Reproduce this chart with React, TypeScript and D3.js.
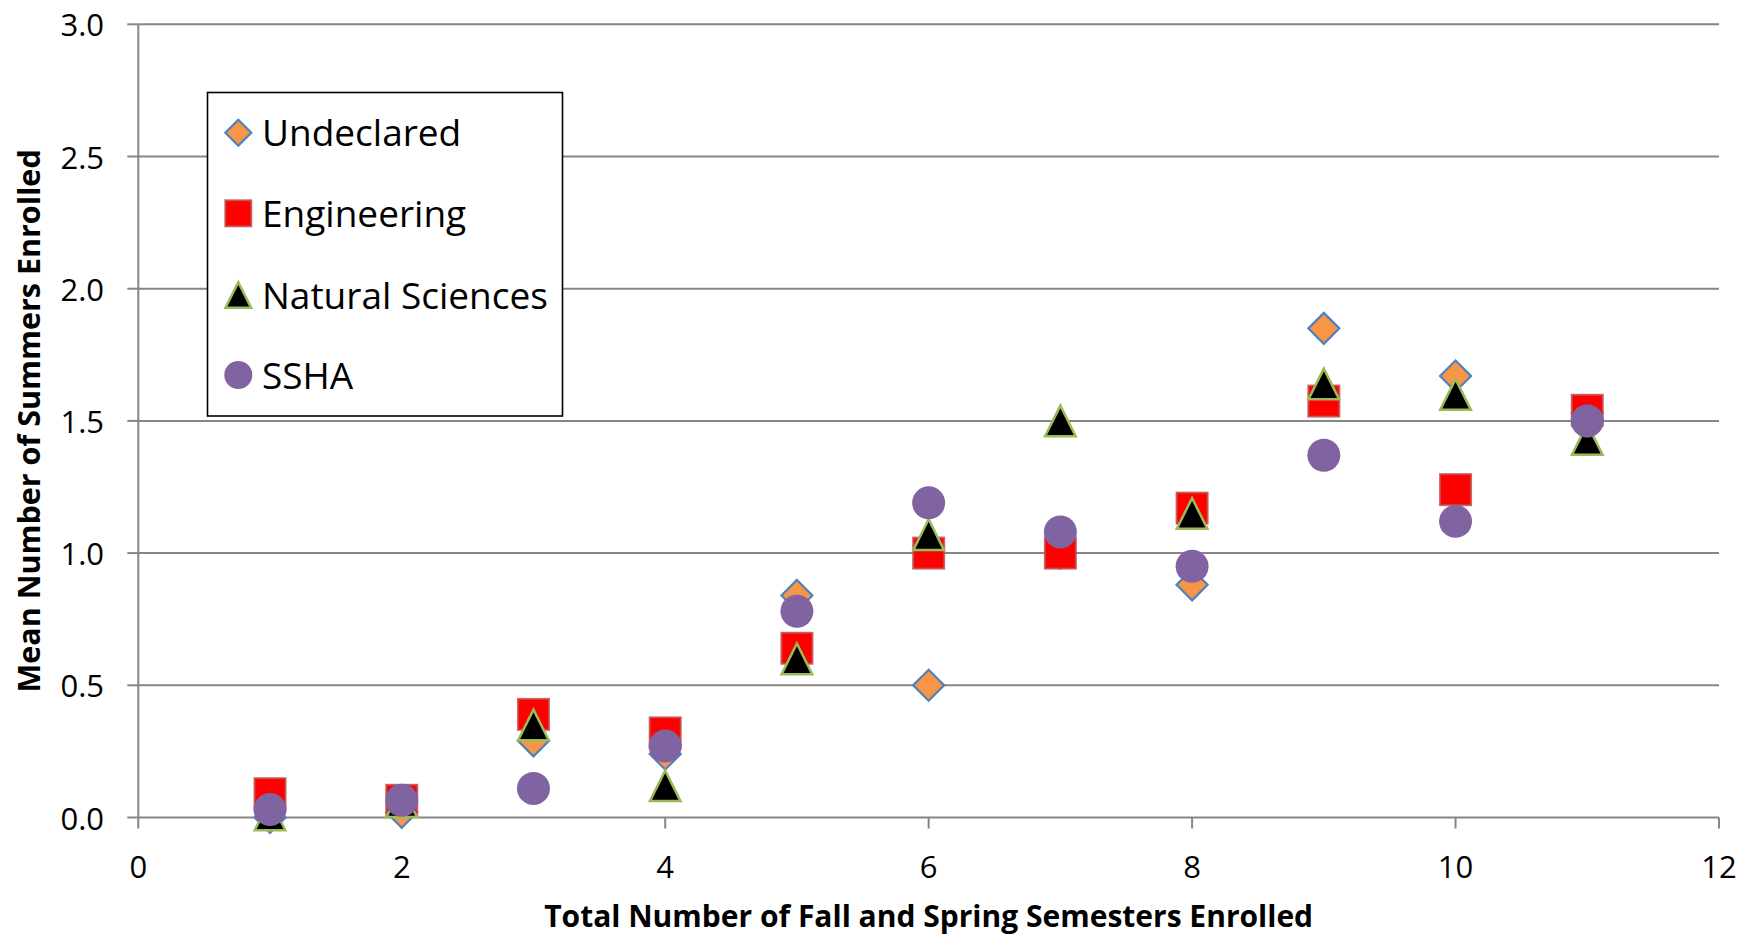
import React from "react";
import * as d3 from "d3";

const semesters = [1, 2, 3, 4, 5, 6, 7, 8, 9, 10, 11];
const undeclared = [0.0, 0.02, 0.29, 0.24, 0.84, 0.5, 1.0, 0.88, 1.85, 1.67, 1.53];
const engineering = [0.09, 0.065, 0.39, 0.32, 0.64, 1.0, 1.0, 1.17, 1.575, 1.24, 1.54];
const naturalSciences = [0.01, 0.06, 0.35, 0.12, 0.6, 1.07, 1.5, 1.15, 1.64, 1.6, 1.43];
const ssha = [0.03, 0.065, 0.11, 0.27, 0.78, 1.19, 1.08, 0.95, 1.37, 1.12, 1.5];
const seriesNames = ["Undeclared", "Engineering", "Natural Sciences", "SSHA"];
const yTicks = [0, 0.5, 1.0, 1.5, 2.0, 2.5, 3.0];
const xTicks = [0, 2, 4, 6, 8, 10, 12];

const W = 1744;
const H = 937;
const left = 138.3;
const right = 1719;
const top = 24.3;
const bottom = 817.5;
const gridColor = "#868686";
const FONT = "'Open Sans', 'Noto Sans', sans-serif";

type Kind = "diamond" | "square" | "triangle" | "circle";
const kinds: Kind[] = ["diamond", "square", "triangle", "circle"];
const seriesData = [undeclared, engineering, naturalSciences, ssha];

function Marker({ kind, cx, cy, s }: { kind: Kind; cx: number; cy: number; s: number }) {
  const h = s / 2;
  if (kind === "diamond") {
    const r = h - 1;
    return (
      <path
        d={`M${cx},${cy - r}L${cx + r},${cy}L${cx},${cy + r}L${cx - r},${cy}Z`}
        fill="#F79646"
        stroke="#4F81BD"
        strokeWidth={2.2}
      />
    );
  }
  if (kind === "square") {
    const r = h - 1;
    return (
      <rect
        x={cx - r}
        y={cy - r}
        width={2 * r}
        height={2 * r}
        fill="#FF0000"
        stroke="#C0504D"
        strokeOpacity={0.85}
        strokeWidth={2}
      />
    );
  }
  if (kind === "triangle") {
    const r = h - 1.2;
    return (
      <path
        d={`M${cx},${cy - r}L${cx + r},${cy + r}L${cx - r},${cy + r}Z`}
        fill="#000000"
        stroke="#9BBB59"
        strokeWidth={2.5}
        strokeLinejoin="miter"
      />
    );
  }
  return <circle cx={cx} cy={cy} r={h} fill="#8064A2" />;
}

export default function App() {
  const x = d3.scaleLinear().domain([0, 12]).range([left, right]);
  const y = d3.scaleLinear().domain([0, 3]).range([bottom, top]);

  const legendX = 207.5;
  const legendY = 92.5;
  const legendW = 355;
  const legendH = 323.5;
  const legendRows = [132.7, 213.3, 295, 375];

  return (
    <svg
      width={W}
      height={H}
      viewBox={`0 0 ${W} ${H}`}
      style={{ position: "absolute", left: 0, top: 0, background: "#fff" }}
    >
      <rect x={0} y={0} width={W} height={H} fill="#fff" />
      {/* gridlines */}
      {yTicks.filter((t) => t > 0).map((t) => (
        <line key={"g" + t} x1={left} x2={right} y1={y(t)} y2={y(t)} stroke={gridColor} strokeWidth={2} />
      ))}
      {/* y axis */}
      <line x1={left} x2={left} y1={top} y2={bottom} stroke={gridColor} strokeWidth={2} />
      {yTicks.map((t) => (
        <g key={"yt" + t}>
          <line x1={left - 11} x2={left} y1={y(t)} y2={y(t)} stroke={gridColor} strokeWidth={2} />
          <text
            x={104}
            y={y(t)}
            textAnchor="end"
            dominantBaseline="central"
            fontFamily={FONT}
            fontSize={31}
            fill="#000"
          >
            {t.toFixed(1)}
          </text>
        </g>
      ))}
      {/* x axis */}
      <line x1={left} x2={right} y1={bottom} y2={bottom} stroke={gridColor} strokeWidth={2} />
      {xTicks.map((t) => (
        <g key={"xt" + t}>
          <line x1={x(t)} x2={x(t)} y1={bottom} y2={bottom + 11} stroke={gridColor} strokeWidth={2} />
          <text
            x={x(t)}
            y={866}
            textAnchor="middle"
            dominantBaseline="central"
            fontFamily={FONT}
            fontSize={31}
            fill="#000"
          >
            {t}
          </text>
        </g>
      ))}
      {/* axis titles */}
      <text
        x={(left + right) / 2}
        y={915}
        textAnchor="middle"
        dominantBaseline="central"
        fontFamily={FONT}
        fontWeight="bold"
        fontSize={30}
        fill="#000"
      >
        Total Number of Fall and Spring Semesters Enrolled
      </text>
      <text
        transform={`translate(28,${(top + bottom) / 2}) rotate(-90)`}
        textAnchor="middle"
        dominantBaseline="central"
        fontFamily={FONT}
        fontWeight="bold"
        fontSize={30.5}
        fill="#000"
      >
        Mean Number of Summers Enrolled
      </text>
      {/* data */}
      {seriesData.map((vals, si) => (
        <g key={"s" + si}>
          {vals.map((v, i) => (
            <Marker key={i} kind={kinds[si]} cx={x(semesters[i])} cy={y(v)} s={33} />
          ))}
        </g>
      ))}
      {/* legend */}
      <rect
        x={legendX}
        y={legendY}
        width={legendW}
        height={legendH}
        fill="#fff"
        stroke="#000"
        strokeWidth={1.6}
      />
      {seriesNames.map((name, i) => (
        <g key={"l" + name}>
          <Marker kind={kinds[i]} cx={238.3} cy={legendRows[i]} s={28} />
          <text
            x={262}
            y={legendRows[i] - 1}
            dominantBaseline="central"
            fontFamily={FONT}
            fontSize={37}
            fill="#000"
          >
            {name}
          </text>
        </g>
      ))}
    </svg>
  );
}
